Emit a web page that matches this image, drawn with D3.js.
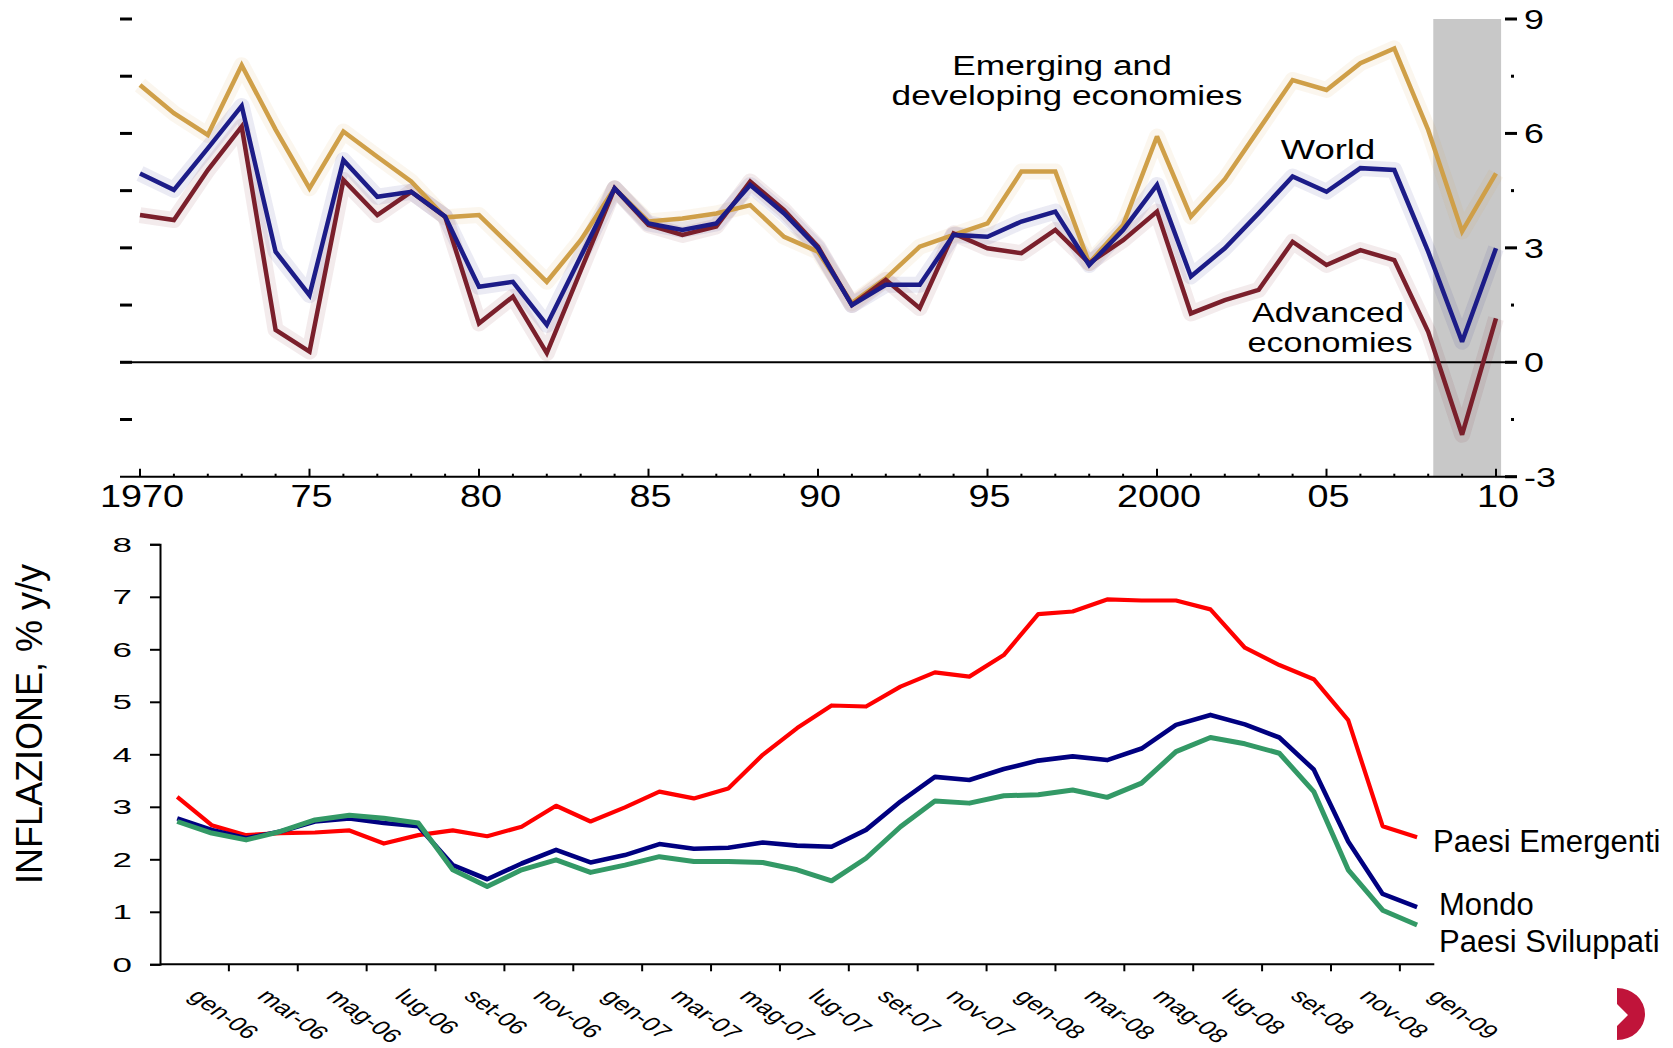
<!DOCTYPE html>
<html>
<head>
<meta charset="utf-8">
<script src="https://cdn.jsdelivr.net/npm/d3@7"></script>
<style>
  html, body { margin: 0; padding: 0; background: #fff; }
  svg { display: block; }
  text { font-family: "Liberation Sans", Arial, Helvetica, sans-serif; fill: #000; }
</style>
</head>
<body>
<svg id="chart" width="1673" height="1048"></svg>
<script>
// ---------- upper panel: consumer price inflation, 1970-2010 ----------
const topYears = [1970,1971,1972,1973,1974,1975,1976,1977,1978,1979,
                  1980,1981,1982,1983,1984,1985,1986,1987,1988,1989,
                  1990,1991,1992,1993,1994,1995,1996,1997,1998,1999,
                  2000,2001,2002,2003,2004,2005,2006,2007,2008,2009,2010];
const emerging = [7.27,6.53,5.96,7.79,6.1,4.56,6.05,5.39,4.74,3.8,
                  3.86,2.99,2.11,3.2,4.56,3.69,3.77,3.9,4.12,3.29,
                  2.9,1.55,2.2,3.03,3.34,3.64,5.0,5.0,2.6,3.6,
                  5.92,3.82,4.8,6.1,7.4,7.14,7.84,8.23,6.09,3.43,4.95];
const world    = [4.95,4.52,5.61,6.72,2.9,1.76,5.3,4.34,4.47,3.82,
                  1.98,2.11,0.98,2.77,4.56,3.64,3.47,3.64,4.65,3.9,
                  2.99,1.5,2.03,2.03,3.34,3.29,3.69,3.95,2.55,3.47,
                  4.65,2.25,2.99,3.91,4.87,4.47,5.09,5.04,2.9,0.54,2.99];
const advanced = [3.86,3.73,5.04,6.18,0.85,0.28,4.78,3.86,4.47,3.82,
                  1.02,1.72,0.24,2.4,4.56,3.6,3.34,3.56,4.74,3.99,
                  3.03,1.5,2.16,1.42,3.38,2.99,2.86,3.47,2.6,3.2,
                  3.95,1.28,1.63,1.9,3.16,2.55,2.94,2.68,0.8,-1.9,1.15];
const topYearTicks  = [1970,1975,1980,1985,1990,1995,2000,2005,2010];
const topYearLabels = ["1970","75","80","85","90","95","2000","05","10"];
const topRightTicks = [9, 6, 3, 0, -3];
const topHalfTicks  = [7.5, 4.5, 1.5, -1.5];
const topLeftTicks  = [9, 7.5, 6, 4.5, 3, 1.5, 0, -1.5];
const forecastBand  = [2008.15, 2010.15];
const topNotes = {
  emerging: ["Emerging and", "developing economies"],
  world: ["World"],
  advanced: ["Advanced", "economies"]
};

// ---------- lower panel: monthly inflation, gen-06 .. gen-09 ----------
const months = ["gen-06","feb-06","mar-06","apr-06","mag-06","giu-06","lug-06","ago-06","set-06","ott-06","nov-06","dic-06",
                "gen-07","feb-07","mar-07","apr-07","mag-07","giu-07","lug-07","ago-07","set-07","ott-07","nov-07","dic-07",
                "gen-08","feb-08","mar-08","apr-08","mag-08","giu-08","lug-08","ago-08","set-08","ott-08","nov-08","dic-08",
                "gen-09"];
const emergenti  = [3.19,2.65,2.46,2.5,2.51,2.55,2.3,2.46,2.55,2.44,2.62,3.02,
                    2.72,2.99,3.29,3.16,3.35,3.99,4.5,4.93,4.91,5.29,5.56,5.48,
                    5.89,6.67,6.72,6.95,6.93,6.93,6.76,6.03,5.7,5.43,4.65,2.63,2.42];
const mondo      = [2.78,2.56,2.4,2.53,2.72,2.78,2.69,2.63,1.89,1.62,1.92,2.18,
                    1.94,2.08,2.29,2.2,2.22,2.32,2.26,2.24,2.56,3.1,3.57,3.51,
                    3.72,3.88,3.96,3.89,4.11,4.56,4.75,4.57,4.32,3.71,2.34,1.34,1.09];
const sviluppati = [2.72,2.5,2.37,2.53,2.75,2.84,2.78,2.69,1.8,1.48,1.8,1.99,
                    1.75,1.89,2.05,1.96,1.96,1.94,1.8,1.59,2.02,2.62,3.11,3.07,
                    3.21,3.23,3.32,3.18,3.45,4.05,4.32,4.2,4.02,3.29,1.8,1.03,0.75];
const bottomYTicks = [0,1,2,3,4,5,6,7,8];
const seriesNames  = ["Paesi Emergenti", "Mondo", "Paesi Sviluppati"];
const yTitle = "INFLAZIONE, % y/y";

const svg = d3.select("#chart");

// helper: horizontally stretched text (the upper graphic has wide lettering)
function wideText(g, x, y, str, size, sx, anchor) {
  return g.append("text")
    .attr("transform", `translate(${x},${y}) scale(${sx},1)`)
    .attr("text-anchor", anchor || "middle")
    .attr("font-size", size)
    .text(str);
}

// ======================= upper panel =======================
const xT = d3.scaleLinear().domain([1970, 2010]).range([140, 1496]);
const yT = d3.scaleLinear().domain([-3, 9]).range([476.7, 19]);
const up = svg.append("g");

// shaded forecast years
up.append("rect")
  .attr("x", xT(forecastBand[0]))
  .attr("width", xT(forecastBand[1]) - xT(forecastBand[0]))
  .attr("y", yT(9))
  .attr("height", yT(-3) - yT(9))
  .attr("fill", "#c8c8c8");

// zero line and bottom axis
up.append("line").attr("x1", 120).attr("x2", 1517)
  .attr("y1", yT(0)).attr("y2", yT(0))
  .attr("stroke", "#000").attr("stroke-width", 2);
up.append("line").attr("x1", 120).attr("x2", 1517)
  .attr("y1", yT(-3)).attr("y2", yT(-3))
  .attr("stroke", "#000").attr("stroke-width", 2);

// year ticks on the bottom axis
up.selectAll(".ytick").data(topYears).enter().append("line")
  .attr("x1", d => xT(d)).attr("x2", d => xT(d))
  .attr("y1", yT(-3))
  .attr("y2", d => yT(-3) - (topYearTicks.includes(d) ? 8 : 3))
  .attr("stroke", "#000").attr("stroke-width", 2);

// left-hand tick dashes
up.selectAll(".ltick").data(topLeftTicks).enter().append("line")
  .attr("x1", 120).attr("x2", 132)
  .attr("y1", d => yT(d)).attr("y2", d => yT(d))
  .attr("stroke", "#000").attr("stroke-width", 3);

// right-hand ticks: dashes at labelled values, dots in between
up.selectAll(".rtick").data(topRightTicks).enter().append("line")
  .attr("x1", 1505).attr("x2", 1517)
  .attr("y1", d => yT(d)).attr("y2", d => yT(d))
  .attr("stroke", "#000").attr("stroke-width", 3);
up.selectAll(".rdot").data(topHalfTicks).enter().append("rect")
  .attr("x", 1511).attr("y", d => yT(d) - 1.5)
  .attr("width", 3).attr("height", 3).attr("fill", "#000");

// right-hand value labels
topRightTicks.forEach(v => wideText(up, 1524, yT(v) + 10, String(v), 28, 1.28, "start"));

// year labels
topYearTicks.forEach((yr, i) => wideText(up, xT(yr) + 2, 507, topYearLabels[i], 31, 1.22, "middle"));

// series lines
const lineT = d3.line().x((d, i) => xT(topYears[i])).y(d => yT(d));
const topSeries = [
  { values: emerging, color: "#cf9f48" },
  { values: advanced, color: "#7a1f2b" },
  { values: world,    color: "#1c1c88" }
];
topSeries.forEach(s => {
  up.append("path").datum(s.values).attr("d", lineT)
    .attr("fill", "none").attr("stroke", s.color)
    .attr("stroke-opacity", 0.09).attr("stroke-width", 16)
    .attr("stroke-linejoin", "round");
});
topSeries.forEach(s => {
  up.append("path").datum(s.values).attr("d", lineT)
    .attr("fill", "none").attr("stroke", s.color)
    .attr("stroke-width", 4.5)
    .attr("stroke-linejoin", "miter").attr("stroke-miterlimit", 2.5);
});

// series annotations
wideText(up, 1062, 75, topNotes.emerging[0], 28, 1.26);
wideText(up, 1067, 105, topNotes.emerging[1], 28, 1.26);
wideText(up, 1328, 159, topNotes.world[0], 28, 1.3);
wideText(up, 1328, 322, topNotes.advanced[0], 28, 1.22);
wideText(up, 1330, 352, topNotes.advanced[1], 28, 1.22);

// ======================= lower panel =======================
const xB = d3.scaleBand().domain(months).range([160, 1434.3]).padding(0);
const bw = xB.bandwidth();
const yB = d3.scaleLinear().domain([0, 8]).range([964.3, 544.3]);
const low = svg.append("g");

// y axis
const gy = low.append("g").attr("transform", "translate(160,0)")
  .call(d3.axisLeft(yB).tickValues(bottomYTicks).tickSize(10).tickPadding(0).tickFormat(d3.format("d")));
gy.select(".domain").attr("stroke", "#000").attr("stroke-width", 2);
gy.selectAll(".tick line").attr("stroke", "#000").attr("stroke-width", 2);
gy.selectAll(".tick text")
  .attr("x", null).attr("dy", null)
  .attr("transform", "translate(-28,7) scale(1.75,1)")
  .attr("font-size", 20)
  .attr("font-family", "\"Liberation Sans\", Arial, sans-serif")
  .attr("fill", "#111");

// x axis line with ticks between every second month
low.append("line")
  .attr("x1", xB.range()[0]).attr("x2", xB.range()[1])
  .attr("y1", yB(0)).attr("y2", yB(0))
  .attr("stroke", "#000").attr("stroke-width", 2);
const tickMonths = months.filter((m, i) => i % 2 === 0 && i > 0);
low.selectAll(".xtick").data(tickMonths).enter().append("line")
  .attr("x1", d => xB(d)).attr("x2", d => xB(d))
  .attr("y1", yB(0)).attr("y2", yB(0) + 7)
  .attr("stroke", "#000").attr("stroke-width", 2);

// slanted month labels
const labelMonths = months.filter((m, i) => i % 2 === 0);
low.selectAll(".xlab").data(labelMonths).enter().append("text")
  .attr("transform", d => `translate(${xB(d) + bw / 2 + 10},${yB(0) + 33}) scale(1.4,1) rotate(45)`)
  .attr("font-size", 19.5)
  .attr("fill", "#111")
  .text(d => d);

// y-axis title
low.append("text")
  .attr("transform", `translate(42,724) rotate(-90)`)
  .attr("text-anchor", "middle")
  .attr("font-size", 36)
  .attr("fill", "#111")
  .text(yTitle);

// monthly series
const lineB = d3.line().x((d, i) => xB(months[i]) + bw / 2).y(d => yB(d));
const bottomSeries = [
  { values: emergenti,  color: "#ff0000", width: 4.2 },
  { values: mondo,      color: "#000080", width: 4.6 },
  { values: sviluppati, color: "#339966", width: 5 }
];
bottomSeries.forEach(s => {
  low.append("path").datum(s.values).attr("d", lineB)
    .attr("fill", "none").attr("stroke", s.color)
    .attr("stroke-width", s.width)
    .attr("stroke-linejoin", "round");
});

// series names at the right end
low.append("text").attr("x", 1433).attr("y", 852).attr("font-size", 31).text(seriesNames[0]);
low.append("text").attr("x", 1439).attr("y", 915).attr("font-size", 31).text(seriesNames[1]);
low.append("text").attr("x", 1439).attr("y", 952).attr("font-size", 31).text(seriesNames[2]);

// corner mark
low.append("path")
  .attr("d", "M1617,988 A28,26 0 0 1 1617,1040 L1617,1026 L1628,1015 L1617,1004 Z")
  .attr("fill", "#c0143a");
</script>
</body>
</html>
